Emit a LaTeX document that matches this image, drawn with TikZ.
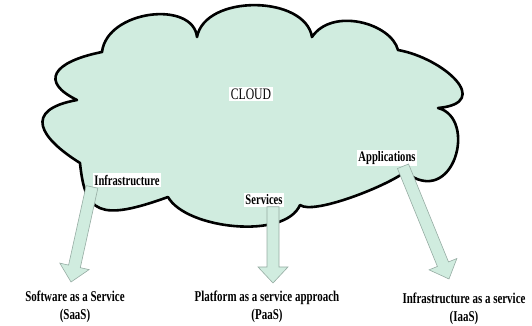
\documentclass[tikz,border=0pt]{standalone}
\usepackage{fontspec}
\setmainfont{Liberation Serif}
\newfontfamily\narrowfont[FakeStretch=0.73]{Liberation Serif}
\usepackage{xcolor}
\usepackage{tikz}
\usetikzlibrary{calc}

\definecolor{cloudfill}{RGB}{208,236,223}
\definecolor{arrowedge}{RGB}{150,172,163}

\tikzset{
  cloudline/.style={draw=black, line width=2.6pt, fill=cloudfill, line join=round},
  arrowbody/.style={draw=arrowedge, line width=0.6pt, fill=cloudfill},
  tag/.style={fill=white, inner sep=1.5pt, font=\narrowfont\bfseries\fontsize{14.5}{17}\selectfont},
  caption/.style={align=center, inner sep=1pt, font=\narrowfont\bfseries\fontsize{15}{18}\selectfont},
}

% block arrow from #1 to #2
\newcommand{\blockarrow}[2]{%
  \coordinate (ba-s) at (#1);
  \coordinate (ba-e) at (#2);
  \coordinate (ba-h) at ($(ba-e)!16pt!(ba-s)$);
  \draw[arrowbody] ($(ba-s)!6pt!90:(ba-e)$) -- ($(ba-h)!6pt!90:(ba-e)$)
    -- ($(ba-h)!15pt!90:(ba-e)$) -- (ba-e) -- ($(ba-h)!15pt!-90:(ba-e)$)
    -- ($(ba-h)!6pt!-90:(ba-e)$) -- ($(ba-s)!6pt!-90:(ba-e)$) -- cycle;
}

\begin{document}
\begin{tikzpicture}[x=1pt, y=1pt]
  \useasboundingbox (0,0) rectangle (532,326);

  % the cloud, one puff after the other
  \draw[cloudline] (77,226)
    .. controls +(-37,18) and +(-50,-10) .. (102,274)
    .. controls +(5,42) and +(-4,37) .. (197,289)
    .. controls +(8,43) and +(-7,42) .. (312,289)
    .. controls +(20,30) and +(-7,27) .. (398,276)
    .. controls +(45,-8) and +(56,5) .. (438,218)
    .. controls +(40,-10) and +(49,-38) .. (405,154)
    .. controls +(-20,-15) and +(13,-10) .. (300,121)
    .. controls +(-15,-35) and +(18,-32) .. (168,129)
    .. controls +(-69,-25) and +(5,-50) .. (80,163)
    .. controls +(-40,25) and +(-55,-10) .. (77,226) -- cycle;

  \node[tag, font=\narrowfont\fontsize{16}{18}\selectfont] (name) at (251,232) {CLOUD};
  \node[tag] (infra) at (127,146) {Infrastructure};
  \node[tag] (serv) at (264,126) {Services};
  \node[tag] (apps) at (387,168) {Applications};

  \node[caption] (saas) at (75,19) {Software as a Service\\(SaaS)};
  \node[caption] (paas) at (267,19) {Platform as a service approach\\(PaaS)};
  \node[caption] (iaas) at (464,17) {Infrastructure as a service\\(IaaS)};

  \coordinate (tipS) at (71,44);
  \coordinate (tipP) at (273,43);
  \coordinate (tipI) at (449,47);

  \blockarrow{[xshift=-35pt]infra.south}{tipS}
  \blockarrow{[xshift=9pt]serv.south}{tipP}
  \blockarrow{[xshift=16pt]apps.south}{tipI}
\end{tikzpicture}
\end{document}
